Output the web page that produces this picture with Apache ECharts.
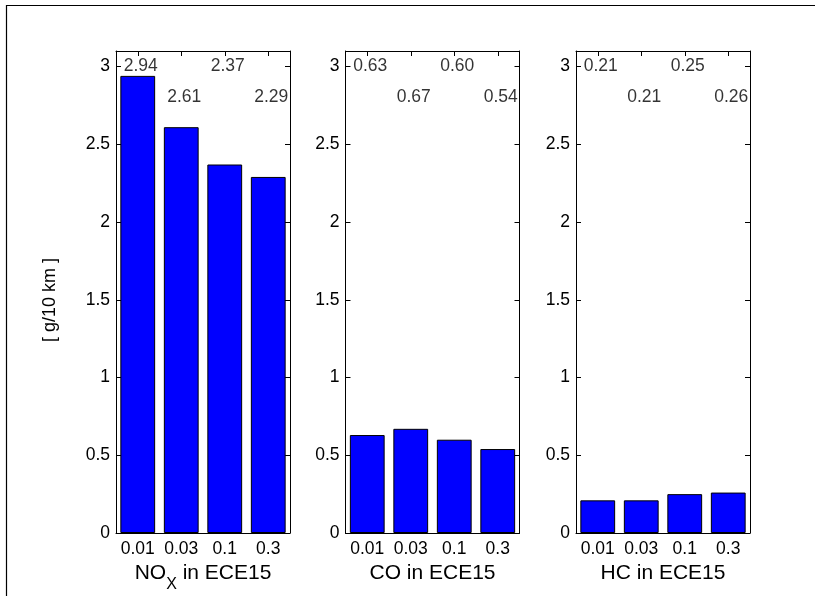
<!DOCTYPE html>
<html>
<head>
<meta charset="utf-8">
<script src="https://cdn.jsdelivr.net/npm/echarts@6/dist/echarts.min.js"></script>
<style>html,body{margin:0;padding:0;background:#fff}#c{width:815px;height:596px}</style>
</head>
<body>
<div id="c"></div>
<script>
const categories = ['0.01', '0.03', '0.1', '0.3'];
const noxValues = [2.94, 2.61, 2.37, 2.29];
const coValues = [0.63, 0.67, 0.60, 0.54];
const hcValues = [0.21, 0.21, 0.25, 0.26];
const yTicks = [0, 0.5, 1, 1.5, 2, 2.5, 3];
const panelNames = ['NOX', 'CO', 'HC'];
const yAxisTitle = '[ g/10 km ]';

const chart = echarts.init(document.getElementById('c'), null, {renderer: 'canvas'});
const FONT = 'Liberation Sans, Arial, sans-serif';
const panels = [noxValues, coValues, hcValues];
const lefts = [116, 345.5, 576];
const W = 174, TOP = 51, H = 482;
const YMAX = 3.1;
const LABEL_ROWS = [3.0, 2.8];
const TICK_FS = 17.5, TITLE_FS = 21;

const grid = [], xAxis = [], yAxis = [], series = [];
panels.forEach((vals, i) => {
  grid.push({left: lefts[i], top: TOP, width: W, height: H, show: false, containLabel: false, outerBoundsMode: 'none'});
  const isNox = i === 0;
  xAxis.push({
    type: 'category', gridIndex: i, data: categories, position: 'bottom',
    boundaryGap: true,
    axisLine: {show: true, onZero: false, lineStyle: {color: '#000', width: 1}},
    axisTick: {show: true, inside: true, length: 5, alignWithLabel: true, lineStyle: {color: '#000'}},
    axisLabel: {show: true, interval: 0, hideOverlap: false, color: '#000', fontSize: TICK_FS, fontFamily: FONT, margin: 7},
    name: isNox ? '{a|NO}{s|X}{a| in ECE15}' : '{a|' + panelNames[i] + ' in ECE15}',
    nameLocation: 'middle', nameGap: 29,
    nameTextStyle: {fontSize: TITLE_FS, fontFamily: FONT, color: '#000', verticalAlign: 'top',
      rich: {a: {fontSize: TITLE_FS, fontFamily: FONT, color: '#000', verticalAlign: 'top', lineHeight: 22},
             s: {fontSize: 16, fontFamily: FONT, color: '#000', verticalAlign: 'top', lineHeight: 18, padding: [14, 0, 0, 0]}}},
    splitLine: {show: false}
  });
  xAxis.push({
    type: 'category', gridIndex: i, data: categories, position: 'top',
    boundaryGap: true,
    axisLine: {show: true, onZero: false, lineStyle: {color: '#000', width: 1}},
    axisTick: {show: true, inside: true, length: 5, alignWithLabel: true, lineStyle: {color: '#000'}},
    axisLabel: {show: false}, splitLine: {show: false}
  });
  const yBase = {
    type: 'value', gridIndex: i, min: 0, max: YMAX, interval: 0.5,
    axisLine: {show: true, onZero: false, lineStyle: {color: '#000', width: 1}},
    axisTick: {show: true, inside: true, length: 5, lineStyle: {color: '#000'}, customValues: yTicks},
    splitLine: {show: false}
  };
  yAxis.push(Object.assign({}, yBase, {
    position: 'left',
    axisLabel: {show: true, color: '#000', fontSize: TICK_FS, fontFamily: FONT, margin: 6, customValues: yTicks}
  }));
  yAxis.push(Object.assign({}, yBase, {position: 'right', axisLabel: {show: false}}));
  series.push({
    type: 'bar', xAxisIndex: 2 * i, yAxisIndex: 2 * i, data: vals, barWidth: '80%',
    itemStyle: {color: '#0000ff', borderColor: '#000', borderWidth: 1}, silent: true
  });
  series.push({
    type: 'scatter', xAxisIndex: 2 * i, yAxisIndex: 2 * i, symbolSize: 0, silent: true,
    data: vals.map((v, k) => ({value: [k, LABEL_ROWS[k % 2]], txt: v.toFixed(2)})),
    label: {show: true, position: [-14, 0], align: 'left', verticalAlign: 'middle',
      fontSize: TICK_FS, fontFamily: FONT, color: '#000',
      formatter: p => p.data.txt}
  });
});

chart.setOption({
  animation: false,
  backgroundColor: '#fff',
  grid, xAxis, yAxis, series,
  graphic: [
    {type: 'rect', shape: {x: 6.5, y: 5.5, width: 1000, height: 1000}, style: {fill: 'none', stroke: '#000', lineWidth: 1.2}, silent: true},
    {type: 'text', x: 50, y: 300, rotation: Math.PI / 2, silent: true,
      style: {text: yAxisTitle, fontSize: 18, fontFamily: FONT, fill: '#000', align: 'center', verticalAlign: 'middle'}}
  ]
});
</script>
</body>
</html>
